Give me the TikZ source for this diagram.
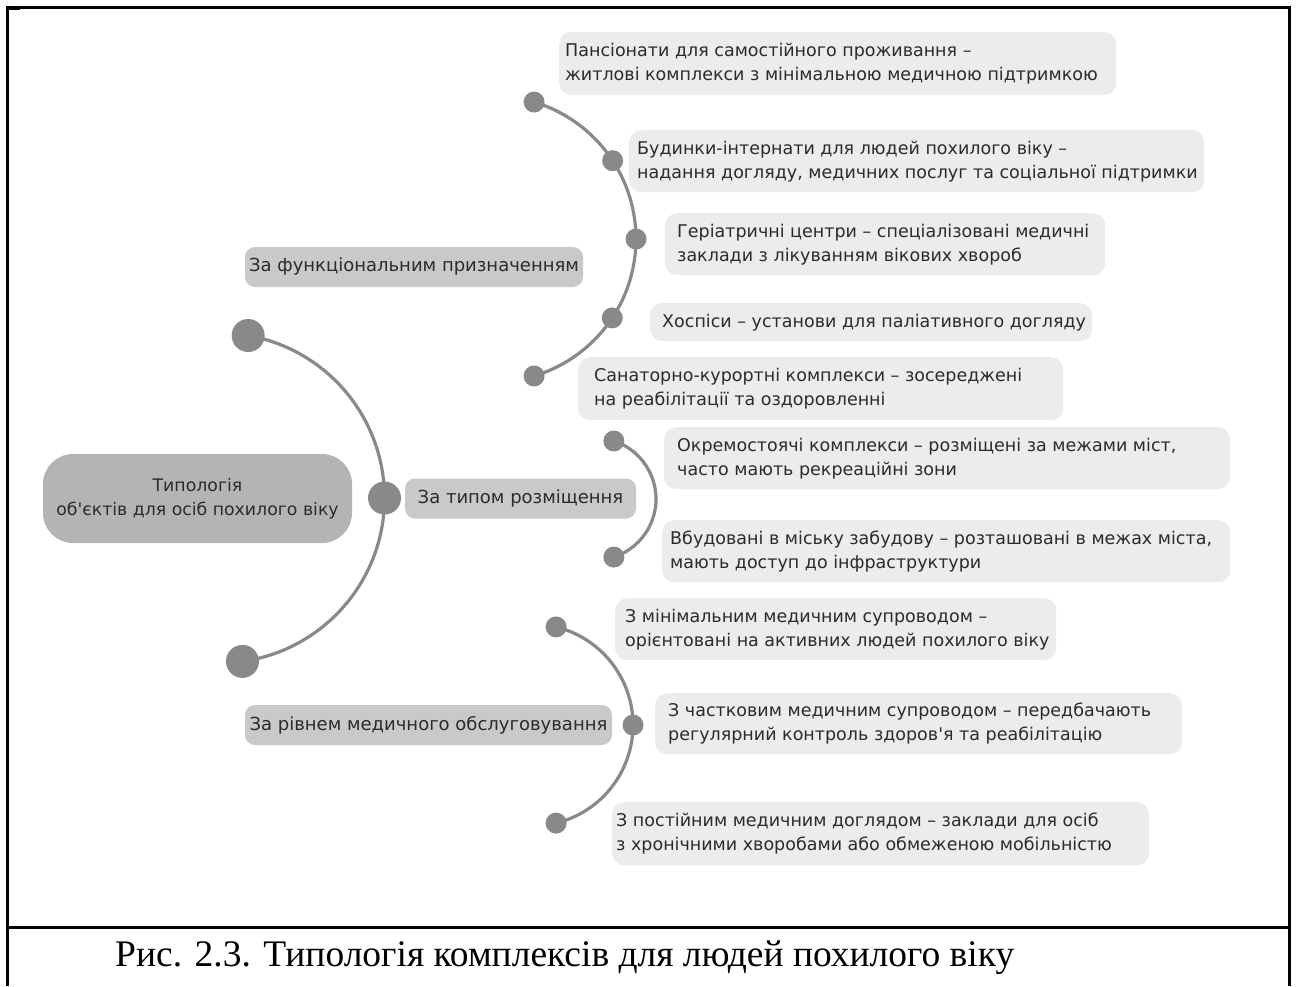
\documentclass[tikz,border=0pt]{standalone}
\usepackage{fontspec}
\setmainfont{Liberation Serif}
\newfontfamily\gfont{DejaVu Sans}
\usetikzlibrary{calc}
\pgfdeclarelayer{bg}
\pgfsetlayers{bg,main}
\definecolor{dotgray}{HTML}{898989}
\definecolor{rootfill}{HTML}{B4B4B4}
\definecolor{branchfill}{HTML}{C9C9C9}
\definecolor{leaffill}{HTML}{ECECEC}
\definecolor{txt}{HTML}{2B2B2B}
\newcommand\leafnode[7]{%
  \node[leafbox, minimum width=#4pt, minimum height=#5pt] (#1) at (#2,#3) {};
  \node[leaftext] (#1t) at ([xshift=#6pt]#1.west) {#7};
}
\begin{document}
\begin{tikzpicture}[x=1pt,y=-1pt,
  frameline/.style={line width=3pt, black},
  arcline/.style={draw=dotgray, line width=3.2pt},
  bigdot/.style={circle, fill=dotgray, minimum size=33pt, inner sep=0pt},
  smalldot/.style={circle, fill=dotgray, minimum size=21pt, inner sep=0pt},
  rootbox/.style={fill=rootfill, rounded corners=30pt, minimum width=309pt, minimum height=89pt, align=center, font=\gfont\fontsize{17.3}{24}\selectfont, text=txt},
  branchbox/.style={fill=branchfill, rounded corners=10pt, minimum height=40pt, inner sep=0pt, font=\gfont\fontsize{18}{24}\selectfont, text=txt},
  leafbox/.style={fill=leaffill, rounded corners=12pt, inner sep=0pt, anchor=north west},
  leaftext/.style={anchor=west, inner sep=0pt, align=left, font=\gfont\fontsize{17.5}{24}\selectfont, text=txt},
]
\useasboundingbox (0,0) rectangle (1297,986);
% frame
\draw[frameline] (5.5,7) -- (1290.5,7);
\draw[frameline] (7,5.5) -- (7,986);
\draw[frameline] (1289,5.5) -- (1289,986);
\draw[frameline] (7,927) -- (1289,927);
\fill (5.5,5.5) rectangle (20,10);
% caption
\node[anchor=base west, inner sep=0pt, font=\fontsize{37.5}{40}\selectfont] (cap) at (115,966) {Рис. 2.3. Типологія комплексів для людей похилого віку};
% centres of arcs
\coordinate (c0) at (219.5,498);
\coordinate (c1) at (493,239);
\coordinate (c2) at (595,499);
\coordinate (c3) at (532,725);
% dots
\node[bigdot] (m1) at ($(c0)+(-80:165)$) {};
\node[bigdot] (m2) at ($(c0)+(0:165)$) {};
\node[bigdot] (m3) at ($(c0)+(82:165)$) {};
\node[smalldot] (f1) at ($(c1)+(-73.3:143)$) {};
\node[smalldot] (f2) at ($(c1)+(-33.2:143)$) {};
\node[smalldot] (f3) at ($(c1)+(0:143)$) {};
\node[smalldot] (f4) at ($(c1)+(33.5:143)$) {};
\node[smalldot] (f5) at ($(c1)+(73.3:143)$) {};
\node[smalldot] (p1) at ($(c2)+(-72:61)$) {};
\node[smalldot] (p2) at ($(c2)+(72:61)$) {};
\node[smalldot] (r1) at ($(c3)+(-76.2:101)$) {};
\node[smalldot] (r2) at ($(c3)+(0:101)$) {};
\node[smalldot] (r3) at ($(c3)+(76.2:101)$) {};
\begin{pgfonlayer}{bg}
\draw[arcline] (m1.center) arc[start angle=-80, end angle=0, radius=165];
\draw[arcline] (m2.center) arc[start angle=0, end angle=82, radius=165];
\draw[arcline] (f1.center) arc[start angle=-73.3, end angle=-33.2, radius=143];
\draw[arcline] (f2.center) arc[start angle=-33.2, end angle=0, radius=143];
\draw[arcline] (f3.center) arc[start angle=0, end angle=33.5, radius=143];
\draw[arcline] (f4.center) arc[start angle=33.5, end angle=73.3, radius=143];
\draw[arcline] (p1.center) arc[start angle=-72, end angle=72, radius=61];
\draw[arcline] (r1.center) arc[start angle=-76.2, end angle=0, radius=101];
\draw[arcline] (r2.center) arc[start angle=0, end angle=76.2, radius=101];
\end{pgfonlayer}
% root and branches
\node[rootbox] (root) at (197.5,498.5) {Типологія\\об'єктів для осіб похилого віку};
\node[branchbox, minimum width=338pt] (b1) at (414,267) {За функціональним призначенням};
\node[branchbox, minimum width=231pt] (b2) at (520.5,498.5) {За типом розміщення};
\node[branchbox, minimum width=367pt] (b3) at (428.5,725) {За рівнем медичного обслуговування};
% leaves
\leafnode{l1}{559}{32}{557}{63}{6}{Пансіонати для самостійного проживання –\\житлові комплекси з мінімальною медичною підтримкою}
\leafnode{l2}{629}{130}{575}{62}{8}{Будинки-інтернати для людей похилого віку –\\надання догляду, медичних послуг та соціальної підтримки}
\leafnode{l3}{665}{213}{440}{62}{12}{Геріатричні центри – спеціалізовані медичні\\заклади з лікуванням вікових хвороб}
\leafnode{l4}{650}{303}{442}{38}{12}{Хоспіси – установи для паліативного догляду}
\leafnode{l5}{578}{357}{485}{63}{16}{Санаторно-курортні комплекси – зосереджені\\на реабілітації та оздоровленні}
\leafnode{l6}{664}{427}{566}{62}{13}{Окремостоячі комплекси – розміщені за межами міст,\\часто мають рекреаційні зони}
\leafnode{l7}{662}{520}{568}{62}{8}{Вбудовані в міську забудову – розташовані в межах міста,\\мають доступ до інфраструктури}
\leafnode{l8}{615}{598}{441}{62}{10}{З мінімальним медичним супроводом –\\орієнтовані на активних людей похилого віку}
\leafnode{l9}{655}{693}{527}{61}{13}{З частковим медичним супроводом – передбачають\\регулярний контроль здоров'я та реабілітацію}
\leafnode{l10}{612}{802}{537}{63}{4}{З постійним медичним доглядом – заклади для осіб\\з хронічними хворобами або обмеженою мобільністю}
\end{tikzpicture}
\end{document}
